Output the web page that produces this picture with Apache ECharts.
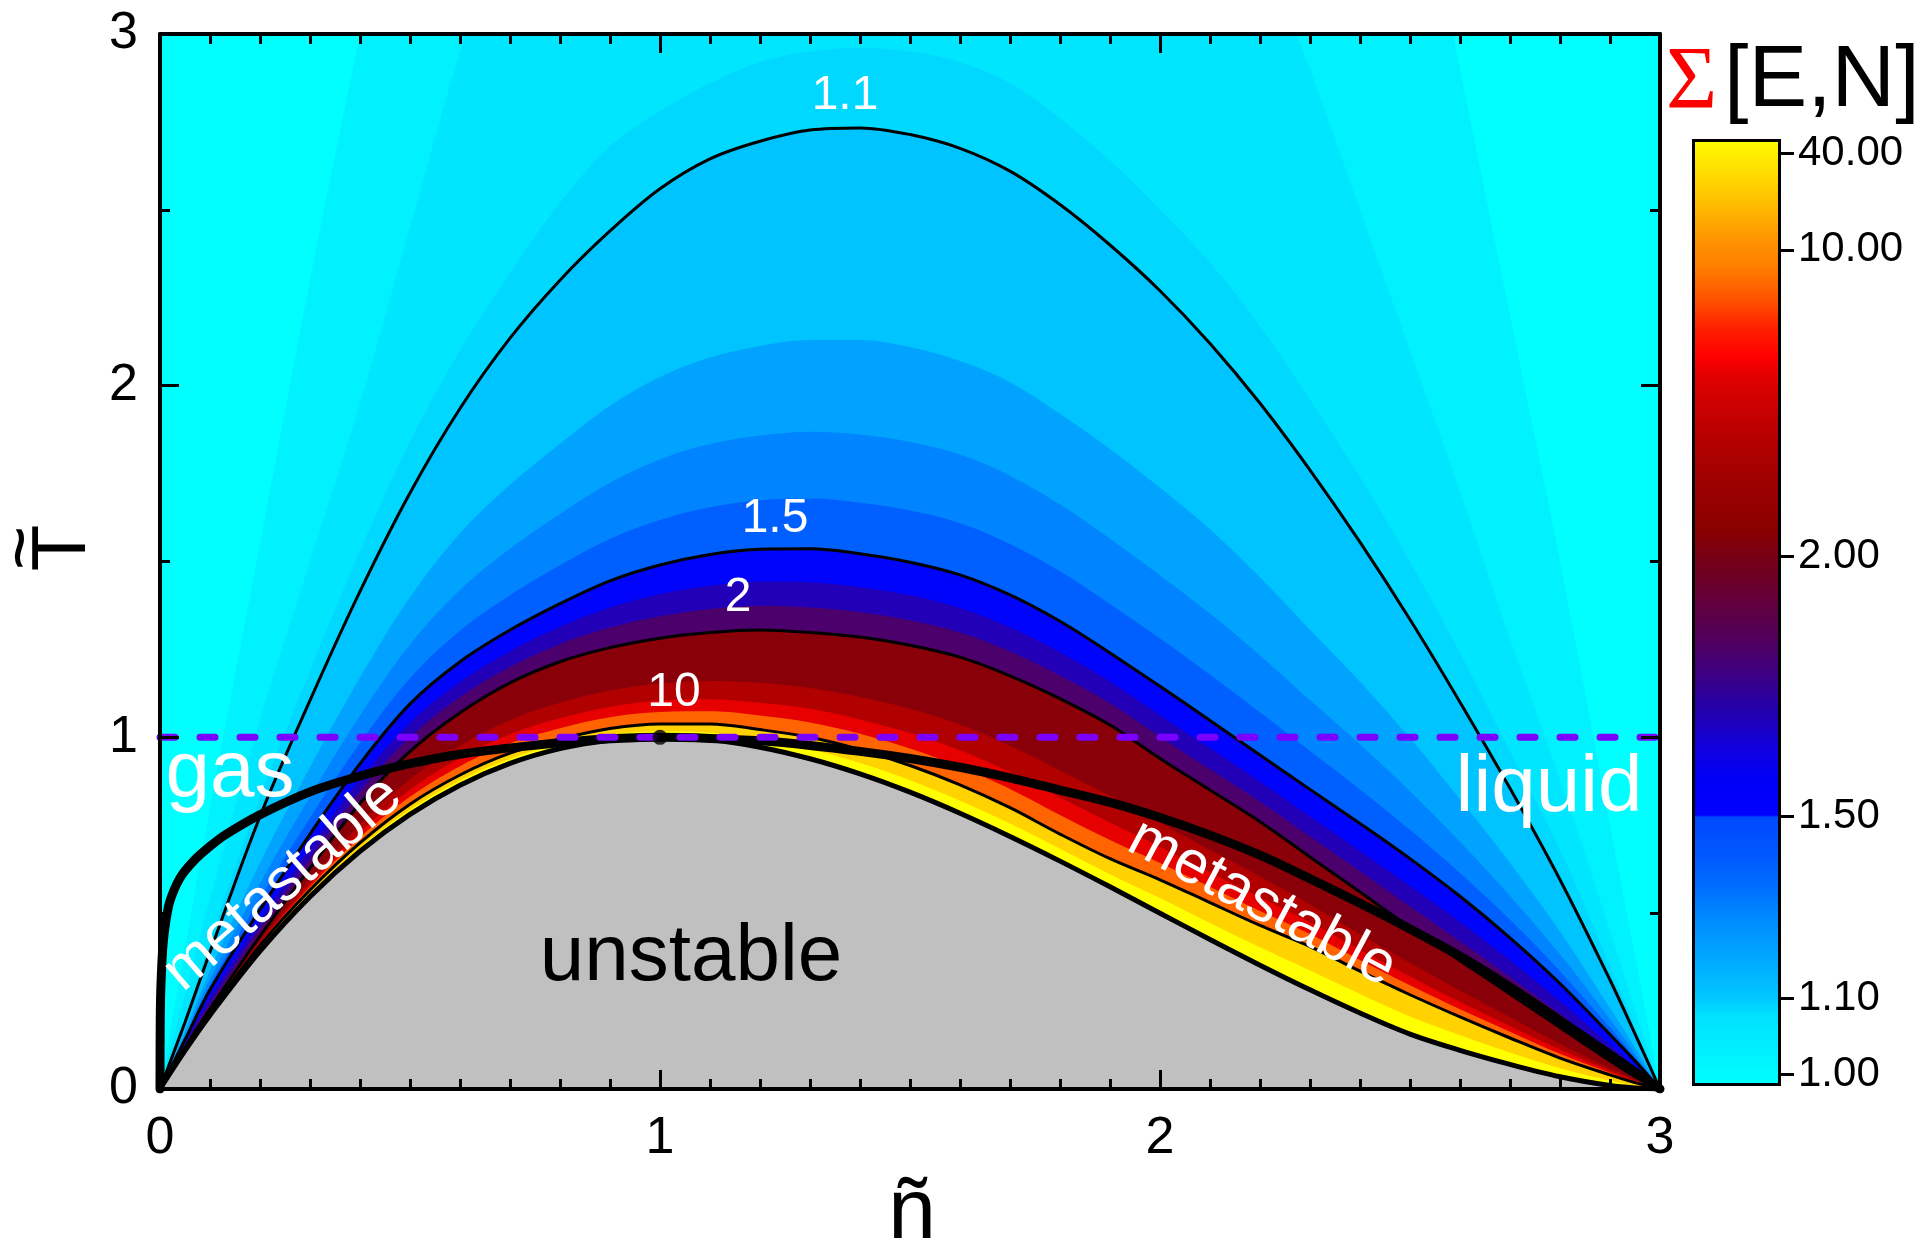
<!DOCTYPE html>
<html>
<head>
<meta charset="utf-8">
<script src="https://cdn.jsdelivr.net/npm/echarts@6/dist/echarts.min.js"></script>
<style>
  html, body { margin: 0; padding: 0; background: #ffffff; }
  #chart { width: 1920px; height: 1247px; }
</style>
</head>
<body>
<div id="chart"></div>
<script>
// Reduced density grid shared by every level curve below
const densityGrid = [0, 0.05, 0.1, 0.2, 0.3, 0.4, 0.5, 0.6, 0.7, 0.8, 0.9, 1.0, 1.1, 1.2, 1.3, 1.4, 1.5, 1.6, 1.7, 1.8, 1.9, 2.0, 2.1, 2.2, 2.3, 2.4, 2.5, 2.6, 2.7, 2.8, 2.9, 2.95, 3.0];

// Reduced temperature of each Sigma[E,N] level line on densityGrid
const sigma103T = [0, 0.4, 0.8, 1.55, 2.3, 3.0, 3.7, 4.3, 4.6, 4.6, 4.6, 4.6, 4.6, 4.6, 4.6, 4.6, 4.6, 4.6, 4.6, 4.6, 4.6, 4.6, 4.6, 4.6, 4.6, 4.2, 3.6, 2.9, 2.2, 1.5, 0.75, 0.38, 0];
const sigma106T = [0, 0.27, 0.54, 1.05, 1.5, 1.95, 2.45, 2.95, 3.4, 3.8, 4, 4, 4, 4, 4, 4, 4, 4, 4, 4, 4, 3.9, 3.6, 3.25, 2.9, 2.5, 2.1, 1.7, 1.28, 0.88, 0.45, 0.225, 0];
const sigma109T = [0, 0.2, 0.42, 0.83, 1.19, 1.53, 1.84, 2.1, 2.32, 2.52, 2.68, 2.78, 2.86, 2.92, 2.95, 2.96, 2.95, 2.92, 2.86, 2.76, 2.64, 2.5, 2.35, 2.17, 1.96, 1.74, 1.5, 1.24, 0.96, 0.68, 0.35, 0.175, 0];
const sigma11T  = [0, 0.19, 0.39, 0.775, 1.105, 1.415, 1.695, 1.935, 2.135, 2.30, 2.44, 2.56, 2.645, 2.695, 2.727, 2.733, 2.714, 2.675, 2.61, 2.515, 2.40, 2.27, 2.12, 1.95, 1.76, 1.555, 1.335, 1.10, 0.855, 0.595, 0.31, 0.157, 0];
const sigma12T  = [0, 0.165, 0.336, 0.643, 0.915, 1.17, 1.398, 1.58, 1.718, 1.835, 1.943, 2.025, 2.08, 2.113, 2.13, 2.13, 2.11, 2.07, 2.01, 1.92, 1.82, 1.71, 1.592, 1.455, 1.306, 1.158, 0.998, 0.824, 0.643, 0.448, 0.23, 0.118, 0];
const sigma13T  = [0, 0.154, 0.312, 0.584, 0.831, 1.062, 1.264, 1.419, 1.536, 1.635, 1.724, 1.79, 1.834, 1.858, 1.869, 1.861, 1.84, 1.804, 1.744, 1.662, 1.565, 1.461, 1.352, 1.233, 1.106, 0.98, 0.847, 0.703, 0.549, 0.383, 0.198, 0.101, 0];
const sigma14T  = [0, 0.146, 0.295, 0.542, 0.771, 0.984, 1.168, 1.303, 1.404, 1.489, 1.564, 1.618, 1.654, 1.674, 1.679, 1.667, 1.645, 1.609, 1.55, 1.472, 1.379, 1.281, 1.178, 1.071, 0.961, 0.852, 0.737, 0.614, 0.481, 0.335, 0.174, 0.089, 0];
const sigma15T  = [0, 0.14, 0.282, 0.51, 0.725, 0.925, 1.095, 1.215, 1.305, 1.38, 1.445, 1.49, 1.52, 1.535, 1.536, 1.522, 1.498, 1.462, 1.405, 1.33, 1.24, 1.145, 1.048, 0.95, 0.852, 0.755, 0.655, 0.548, 0.43, 0.30, 0.155, 0.08, 0];
const sigma165T = [0, 0.131, 0.26, 0.48, 0.686, 0.88, 1.041, 1.157, 1.245, 1.314, 1.369, 1.407, 1.431, 1.443, 1.441, 1.427, 1.404, 1.368, 1.313, 1.242, 1.158, 1.063, 0.969, 0.874, 0.775, 0.677, 0.577, 0.475, 0.366, 0.25, 0.125, 0.062, 0];
const sigma18T  = [0, 0.125, 0.244, 0.458, 0.657, 0.846, 1.0, 1.114, 1.2, 1.265, 1.312, 1.344, 1.365, 1.374, 1.369, 1.356, 1.333, 1.298, 1.244, 1.176, 1.097, 1.002, 0.909, 0.817, 0.718, 0.619, 0.519, 0.42, 0.318, 0.213, 0.103, 0.049, 0];
const sigma2T   = [0, 0.118, 0.228, 0.435, 0.628, 0.812, 0.96, 1.07, 1.155, 1.215, 1.255, 1.282, 1.298, 1.305, 1.298, 1.285, 1.262, 1.228, 1.175, 1.11, 1.035, 0.94, 0.85, 0.76, 0.66, 0.56, 0.46, 0.365, 0.27, 0.175, 0.08, 0.035, 0];
const sigma3T   = [0, 0.115, 0.223, 0.421, 0.595, 0.753, 0.881, 0.976, 1.049, 1.098, 1.133, 1.153, 1.16, 1.155, 1.14, 1.115, 1.081, 1.036, 0.976, 0.906, 0.834, 0.757, 0.68, 0.604, 0.525, 0.441, 0.358, 0.28, 0.204, 0.129, 0.059, 0.026, 0];
const sigma5T   = [0, 0.114, 0.221, 0.415, 0.583, 0.73, 0.851, 0.941, 1.009, 1.054, 1.087, 1.104, 1.108, 1.098, 1.081, 1.051, 1.012, 0.963, 0.901, 0.829, 0.758, 0.688, 0.616, 0.545, 0.474, 0.396, 0.32, 0.248, 0.179, 0.112, 0.051, 0.023, 0];
const sigma7T   = [0, 0.114, 0.219, 0.412, 0.575, 0.716, 0.831, 0.918, 0.983, 1.026, 1.057, 1.072, 1.074, 1.062, 1.042, 1.01, 0.968, 0.916, 0.853, 0.779, 0.708, 0.643, 0.575, 0.506, 0.441, 0.367, 0.295, 0.227, 0.163, 0.1, 0.046, 0.02, 0];
const sigma10T  = [0, 0.113, 0.218, 0.408, 0.566, 0.70, 0.81, 0.893, 0.955, 0.995, 1.025, 1.038, 1.038, 1.022, 1.0, 0.965, 0.92, 0.865, 0.80, 0.725, 0.655, 0.595, 0.53, 0.465, 0.405, 0.335, 0.268, 0.205, 0.145, 0.088, 0.04, 0.018, 0];
const sigma20T  = [0, 0.111, 0.214, 0.399, 0.556, 0.687, 0.794, 0.877, 0.939, 0.98, 1.007, 1.017, 1.013, 0.995, 0.966, 0.927, 0.878, 0.82, 0.755, 0.683, 0.611, 0.543, 0.472, 0.403, 0.337, 0.27, 0.206, 0.153, 0.104, 0.059, 0.024, 0.01, 0];

// Spinodal (border of the unstable region) on densityGrid
const spinodalT = [0, 0.109, 0.21, 0.392, 0.547, 0.676, 0.781, 0.864, 0.926, 0.968, 0.992, 1.0, 0.993, 0.972, 0.939, 0.896, 0.844, 0.784, 0.718, 0.648, 0.575, 0.5, 0.425, 0.352, 0.282, 0.216, 0.156, 0.11, 0.07, 0.035, 0.01, 0.003, 0];

// Binodal (coexistence curve)
const binodalN = [0, 0.0005, 0.002, 0.006, 0.012, 0.02, 0.04, 0.067, 0.1, 0.133, 0.2, 0.3, 0.4, 0.5, 0.6, 0.733, 0.867, 0.95, 1.0, 1.1, 1.2, 1.3, 1.4, 1.5, 1.6, 1.7, 1.8, 1.9, 2.0, 2.1, 2.2, 2.3, 2.4, 2.5, 2.6, 2.7, 2.8, 2.9, 3.0];
const binodalT = [0, 0.2, 0.3, 0.41, 0.48, 0.535, 0.6, 0.648, 0.69, 0.725, 0.78, 0.845, 0.89, 0.925, 0.952, 0.975, 0.993, 0.999, 1.0, 0.997, 0.99, 0.977, 0.96, 0.94, 0.915, 0.885, 0.85, 0.815, 0.772, 0.722, 0.665, 0.598, 0.528, 0.455, 0.378, 0.29, 0.195, 0.098, 0];

// Critical point
const criticalN = [1];
const criticalT = [1];

// Labelled contour levels
const contourLevels = ['1.1', '1.5', '2', '10'];

// Colour bar tick values and their place along the bar (0 = bottom, 1 = top)
const colorbarTickValue = [1.00, 1.10, 1.50, 2.00, 10.00, 40.00];
const colorbarTickPos = [0.0127, 0.093, 0.285, 0.559, 0.883, 0.985];

// Colour bar gradient stops
const colorbarStopPos = [0, 0.038, 0.076, 0.093, 0.132, 0.17, 0.208, 0.245, 0.284, 0.286, 0.324, 0.355, 0.393, 0.43, 0.468, 0.506, 0.544, 0.588, 0.644, 0.70, 0.748, 0.77, 0.80, 0.829, 0.867, 0.889, 0.919, 0.951, 0.978, 1.0];
const colorbarStopColor = ['#00ffff', '#00f0ff', '#00e0ff', '#00c8ff', '#00aaff', '#0090ff', '#0070ff', '#0058ff', '#0048ff', '#0000ff', '#0000f8', '#1000e0', '#2000b0', '#3a0088', '#500060', '#600040', '#700020', '#8a0000', '#a00000', '#c00000', '#e00000', '#ff0000', '#ff2000', '#ff5000', '#ff8000', '#ff9000', '#ffb000', '#ffd000', '#ffe800', '#ffff00'];

// ---------- styling ----------
const FONT = '"Liberation Sans", Arial, Helvetica, sans-serif';
const SMOOTH = 0.35;

const fillLevels = [sigma103T, sigma106T, sigma109T, sigma11T, sigma12T, sigma13T, sigma14T, sigma15T, sigma165T, sigma18T, sigma2T, sigma3T, sigma5T, sigma7T, sigma10T, sigma20T];
const fillColors = ['#00f2ff', '#00e6ff', '#00d8ff', '#00c4ff', '#00a4ff', '#0084ff', '#0060ff', '#0004fa', '#2200b8', '#4c006c', '#8a0008', '#b00000', '#e60000', '#ff6400', '#ffd200', '#ffff00'];
const contourCurves = [sigma11T, sigma15T, sigma2T, sigma10T];

// text placed in (n, T) coordinates
const textSpecs = [
  { text: contourLevels[0], at: [1.37, 2.824], size: 48, color: '#ffffff', rotate: 0 },
  { text: contourLevels[1], at: [1.23, 1.621], size: 48, color: '#ffffff', rotate: 0 },
  { text: contourLevels[2], at: [1.156, 1.396], size: 48, color: '#ffffff', rotate: 0 },
  { text: contourLevels[3], at: [1.028, 1.126], size: 48, color: '#ffffff', rotate: 0 },
  { text: 'gas', at: [0.14, 0.895], size: 80, color: '#ffffff', rotate: 0 },
  { text: 'liquid', at: [2.778, 0.852], size: 80, color: '#ffffff', rotate: 0 },
  { text: 'unstable', at: [1.062, 0.372], size: 80, color: '#000000', rotate: 0 },
  { text: 'metastable', at: [0.246, 0.583], size: 60, color: '#ffffff', rotate: 41 },
  { text: 'metastable', at: [2.204, 0.528], size: 60, color: '#ffffff', rotate: -28 }
];

const toPairs = ts => densityGrid.map((n, i) => [n, ts[i]]);

const series = [];

fillLevels.forEach((ts, i) => {
  series.push({
    type: 'line', xAxisIndex: 0, yAxisIndex: 0,
    data: toPairs(ts), symbol: 'none', smooth: SMOOTH,
    lineStyle: { width: 0, opacity: 0 },
    areaStyle: { color: fillColors[i], opacity: 1, origin: 'start' },
    silent: true, z: 1, clip: true
  });
});

// unstable region
series.push({
  type: 'line', xAxisIndex: 0, yAxisIndex: 0,
  data: toPairs(spinodalT), symbol: 'none', smooth: SMOOTH,
  lineStyle: { width: 0, opacity: 0 },
  areaStyle: { color: '#c0c0c0', opacity: 1, origin: 'start' },
  silent: true, z: 2, clip: true
});

// contour lines
contourCurves.forEach(ts => {
  series.push({
    type: 'line', xAxisIndex: 0, yAxisIndex: 0,
    data: toPairs(ts), symbol: 'none', smooth: SMOOTH,
    lineStyle: { color: '#000000', width: 3 },
    silent: true, z: 3, clip: true
  });
});

// spinodal line
series.push({
  type: 'line', xAxisIndex: 0, yAxisIndex: 0,
  data: toPairs(spinodalT), symbol: 'none', smooth: SMOOTH,
  lineStyle: { color: '#000000', width: 5 },
  silent: true, z: 3, clip: true
});

// binodal
series.push({
  type: 'line', xAxisIndex: 0, yAxisIndex: 0,
  data: binodalN.map((n, i) => [n, binodalT[i]]), symbol: 'none', smooth: 0.3,
  lineStyle: { color: '#000000', width: 9, cap: 'round', join: 'round' },
  silent: true, z: 4, clip: true
});

// critical temperature line
series.push({
  type: 'line', xAxisIndex: 0, yAxisIndex: 0,
  data: [[0, criticalT[0]], [3, criticalT[0]]], symbol: 'none',
  lineStyle: { color: '#7b00ff', width: 7, type: [15, 25], cap: 'round' },
  silent: true, z: 5, clip: true
});

// critical point
series.push({
  type: 'scatter', xAxisIndex: 0, yAxisIndex: 0,
  data: [[criticalN[0], criticalT[0]]], symbol: 'circle', symbolSize: 15,
  itemStyle: { color: '#000000' }, silent: true, z: 6
});

// region names and contour values
series.push({
  type: 'custom', xAxisIndex: 0, yAxisIndex: 0, coordinateSystem: 'cartesian2d',
  data: textSpecs.map(s => s.at),
  renderItem: (params, api) => {
    const s = textSpecs[params.dataIndex];
    const p = api.coord([api.value(0), api.value(1)]);
    return {
      type: 'text', x: p[0], y: p[1], rotation: s.rotate * Math.PI / 180,
      style: { text: s.text, fill: s.color, font: s.size + 'px ' + FONT, align: 'center', verticalAlign: 'middle' }
    };
  },
  silent: true, z: 7, clip: false
});

// colour bar
series.push({
  type: 'bar', xAxisIndex: 2, yAxisIndex: 2, data: [1], barWidth: '100%',
  itemStyle: {
    color: new echarts.graphic.LinearGradient(0, 1, 0, 0,
      colorbarStopPos.map((p, i) => ({ offset: p, color: colorbarStopColor[i] }))),
    borderColor: '#000000', borderWidth: 3
  },
  silent: true, z: 2
});

const mainTick = { show: true, inside: true, length: 19, lineStyle: { color: '#000000', width: 3 } };
const mainLine = { show: true, onZero: false, lineStyle: { color: '#000000', width: 4 } };
const mainLabel = { show: true, fontSize: 52, fontFamily: FONT, color: '#000000', showMinLabel: true, showMaxLabel: true };

const option = {
  animation: false,
  backgroundColor: '#ffffff',
  textStyle: { fontFamily: FONT },
  grid: [
    { left: 160, top: 34, width: 1500, height: 1055, show: true, backgroundColor: '#00ffff', borderWidth: 0 },
    { left: 1692, top: 139, width: 89, height: 947 }
  ],
  xAxis: [
    { type: 'value', gridIndex: 0, min: 0, max: 3, interval: 1, position: 'bottom', z: 10,
      axisLine: mainLine, axisTick: mainTick,
      minorTick: { show: true, splitNumber: 10, length: 10, lineStyle: { color: '#000000', width: 3 } },
      axisLabel: Object.assign({ margin: 24 }, mainLabel),
      splitLine: { show: false }, minorSplitLine: { show: false } },
    { type: 'value', gridIndex: 0, min: 0, max: 3, interval: 1, position: 'top', z: 10,
      axisLine: mainLine, axisTick: mainTick,
      minorTick: { show: true, splitNumber: 10, length: 10, lineStyle: { color: '#000000', width: 3 } },
      axisLabel: { show: false }, splitLine: { show: false }, minorSplitLine: { show: false } },
    { type: 'category', gridIndex: 1, data: ['Σ'], show: false }
  ],
  yAxis: [
    { type: 'value', gridIndex: 0, min: 0, max: 3, interval: 1, position: 'left', z: 10,
      axisLine: mainLine, axisTick: mainTick,
      minorTick: { show: true, splitNumber: 2, length: 10, lineStyle: { color: '#000000', width: 3 } },
      axisLabel: Object.assign({ margin: 22 }, mainLabel),
      splitLine: { show: false }, minorSplitLine: { show: false } },
    { type: 'value', gridIndex: 0, min: 0, max: 3, interval: 1, position: 'right', z: 10,
      axisLine: mainLine, axisTick: mainTick,
      minorTick: { show: true, splitNumber: 2, length: 10, lineStyle: { color: '#000000', width: 3 } },
      axisLabel: { show: false }, splitLine: { show: false }, minorSplitLine: { show: false } },
    { type: 'value', gridIndex: 1, min: 0, max: 1, position: 'right', z: 10,
      axisLine: { show: false },
      axisTick: { show: true, inside: false, length: 13, customValues: colorbarTickPos, lineStyle: { color: '#000000', width: 3 } },
      axisLabel: {
        show: true, customValues: colorbarTickPos, margin: 17, fontSize: 42, fontFamily: FONT, color: '#000000',
        formatter: v => {
          const i = colorbarTickPos.findIndex(p => Math.abs(p - v) < 1e-6);
          return i >= 0 ? colorbarTickValue[i].toFixed(2) : '';
        }
      },
      splitLine: { show: false } }
  ],
  graphic: [
    { type: 'text', x: 1666, y: 84, z: 20,
      style: { text: 'Σ', fill: '#ff0000', font: '88px "Liberation Serif", "Times New Roman", serif', align: 'left', verticalAlign: 'middle' } },
    { type: 'text', x: 1724, y: 82, z: 20,
      style: { text: '[E,N]', fill: '#000000', font: '88px ' + FONT, align: 'left', verticalAlign: 'middle' } },
    { type: 'text', x: 912, y: 1214, z: 20,
      style: { text: 'ñ', fill: '#000000', font: '86px ' + FONT, align: 'center', verticalAlign: 'middle' } },
    { type: 'group', x: 64, y: 548, rotation: Math.PI / 2, z: 20,
      children: [
        { type: 'text', x: 0, y: 0, style: { text: 'T', fill: '#000000', font: '76px ' + FONT, align: 'center', verticalAlign: 'middle' } },
        { type: 'text', x: 0, y: -40, style: { text: '~', fill: '#000000', font: '76px ' + FONT, align: 'center', verticalAlign: 'middle' } }
      ] }
  ],
  series: series
};

const chart = echarts.init(document.getElementById('chart'), null, { renderer: 'canvas', width: 1920, height: 1247 });
chart.setOption(option);
</script>
</body>
</html>
